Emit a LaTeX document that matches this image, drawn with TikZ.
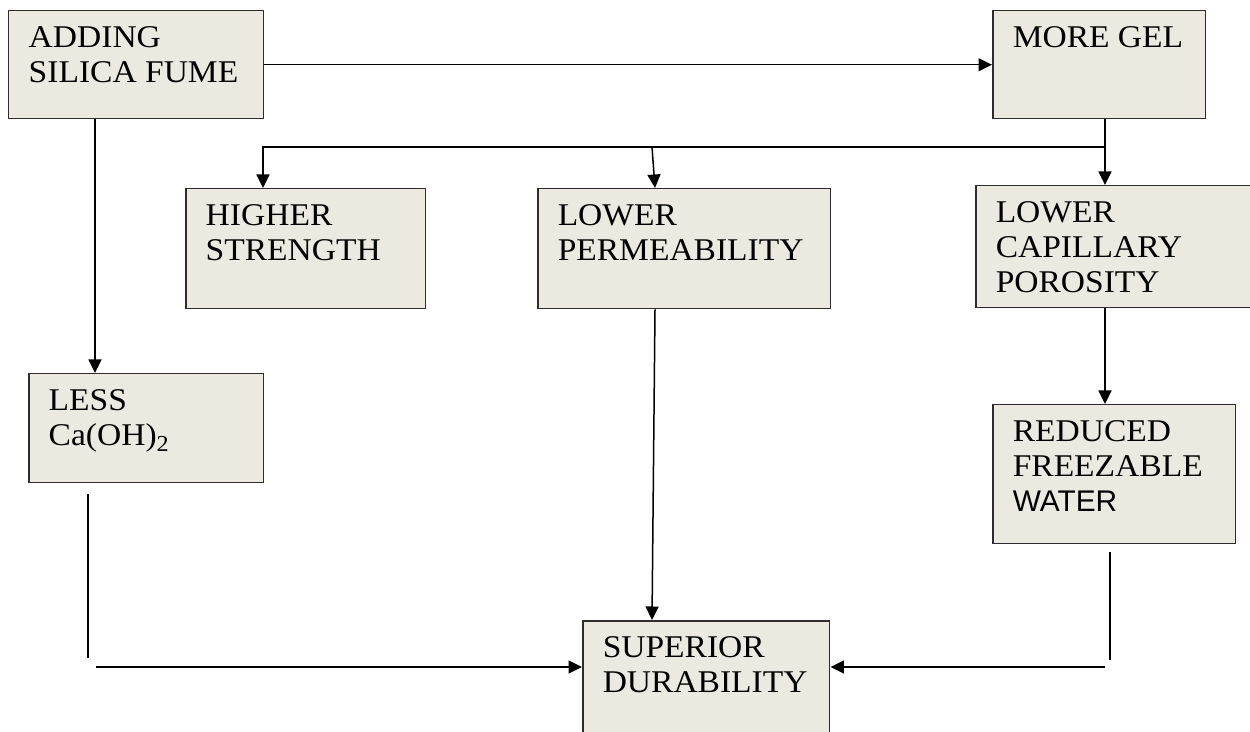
\documentclass[tikz,border=0pt]{standalone}
\usepackage{fontspec}
\setmainfont{Liberation Serif}[FakeStretch=1.06]
\newfontfamily\watfont{Liberation Sans}
\usetikzlibrary{arrows.meta, positioning, calc}
\definecolor{boxfill}{RGB}{236,234,224}
\definecolor{boxline}{RGB}{45,45,45}

% text block inside a box: width, height, lines
\newcommand{\blk}[3]{\begin{minipage}[t][#2][t]{#1}\raggedright\leftskip=0.4cm
  \fontsize{18pt}{0.7cm}\selectfont\rule{0pt}{0.74cm}#3\end{minipage}}

\begin{document}
\begin{tikzpicture}[x=0.02cm, y=-0.02cm,
    blkbox/.style={draw=boxline, line width=0.03cm, fill=boxfill, anchor=north west, inner sep=0pt},
    arr/.style={-{Triangle[length=0.27cm, width=0.26cm]}, line width=0.03cm},
    wire/.style={line width=0.03cm}]
    \useasboundingbox (0,0) rectangle (1250,732);
    \clip (0,0) rectangle (1250,732);

    % Top row
    \node[blkbox] (add) at (8,10) {\blk{5.10cm}{2.16cm}{ADDING\\SILICA FUME}};
    \node[blkbox] (gel) at (992,10) {\blk{4.26cm}{2.16cm}{MORE GEL}};

    % Middle row
    \node[blkbox] (str) at (185,188) {\blk{4.80cm}{2.40cm}{HIGHER\\STRENGTH}};
    \node[blkbox] (perm) at (537,188) {\blk{5.86cm}{2.40cm}{LOWER\\PERMEABILITY}};
    \node[blkbox] (cap) at (975,185) {\blk{5.60cm}{2.44cm}{LOWER\\CAPILLARY\\POROSITY}};

    % Lower boxes
    \node[blkbox] (less) at (28,373) {\blk{4.70cm}{2.18cm}{LESS\\Ca(OH)\raisebox{-0.12cm}{\fontsize{13pt}{13pt}\selectfont 2}}};
    \node[blkbox] (red) at (992,404) {\blk{4.86cm}{2.78cm}{REDUCED\\FREEZABLE\\{\watfont\fontsize{17pt}{0.7cm}\selectfont WATER}}};
    \node[blkbox] (sup) at (582,620) {\blk{4.94cm}{2.80cm}{SUPERIOR\\DURABILITY}};

    % Guide coordinates
    \coordinate (colA) at (95,0);
    \coordinate (colS) at (263,0);
    \coordinate (colP) at (655,0);
    \coordinate (colC) at (1105,0);
    \coordinate (bus) at (0,147);
    \coordinate (row) at (0,667);

    % Connectors
    \draw[arr] (add.east) -- (gel.west);
    \draw[arr] (add.south -| colA) -- (less.north -| colA);
    \draw[arr] (gel.south -| colC) -- (cap.north -| colC);
    \draw[arr] (colC |- bus) -- (colS |- bus) -- (str.north -| colS);
    \draw[arr] ([xshift=-0.06cm]colP |- bus) -- (perm.north -| colP);
    \draw[arr] (perm.south -| colP) -- ([xshift=-0.06cm]sup.north -| colP);
    \draw[arr] (cap.south -| colC) -- (red.north -| colC);

    % Feeds into durability
    \draw[wire] ([yshift=-0.22cm]less.south -| 88,0) -- (88,658);
    \draw[arr] (96,0 |- row) -- (sup.west |- row);
    \draw[wire] ([yshift=-0.16cm]red.south -| 1110,0) -- (1110,660);
    \draw[arr] (1105,0 |- row) -- (sup.east |- row);
\end{tikzpicture}
\end{document}
